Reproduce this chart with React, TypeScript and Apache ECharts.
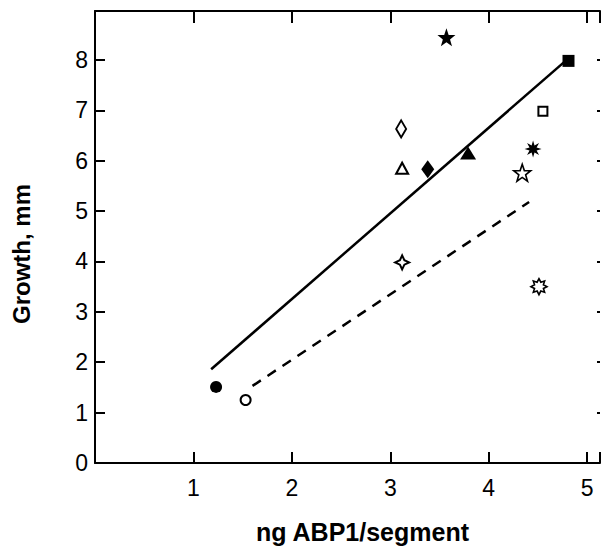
import React, { useEffect, useRef } from "react";
import * as echarts from "echarts";

// ---- data ----
const pointX = [1.23, 1.53, 3.11, 3.12, 3.38, 3.79, 3.57, 4.81, 4.55, 4.45, 4.34, 3.12, 4.51];
const pointY = [1.51, 1.25, 6.63, 5.85, 5.83, 6.15, 8.45, 7.98, 6.98, 6.23, 5.76, 3.98, 3.50];

const solidLineX = [1.18, 4.78];
const solidLineY = [1.86, 7.98];
const dashedLineX = [1.6, 4.41];
const dashedLineY = [1.53, 5.18];

const xTicks = [1, 2, 3, 4, 5];
const yTicks = [0, 1, 2, 3, 4, 5, 6, 7, 8];

const xTitle = "ng ABP1/segment";
const yTitle = "Growth, mm";

// ---- marker styles ----
const STAR5 = "path://M0,-10 L2.35,-3.24 L9.51,-3.09 L3.8,1.24 L5.88,8.09 L0,4 L-5.88,8.09 L-3.8,1.24 L-9.51,-3.09 L-2.35,-3.24 Z";
const STAR8 = "path://M0,-10 L1.72,-4.16 L7.07,-7.07 L4.16,-1.72 L10,0 L4.16,1.72 L7.07,7.07 L1.72,4.16 L0,10 L-1.72,4.16 L-7.07,7.07 L-4.16,1.72 L-10,0 L-4.16,-1.72 L-7.07,-7.07 L-1.72,-4.16 Z";
const STAR8O = "path://M0,-10 L2.3,-5.54 L7.07,-7.07 L5.54,-2.3 L10,0 L5.54,2.3 L7.07,7.07 L2.3,5.54 L0,10 L-2.3,5.54 L-7.07,7.07 L-5.54,2.3 L-10,0 L-5.54,-2.3 L-7.07,-7.07 L-2.3,-5.54 Z";
const STAR4 = "path://M0,-10 L3.2,-3.2 L10,0 L3.2,3.2 L0,10 L-3.2,3.2 L-10,0 L-3.2,-3.2 Z";

const INK = "#000000";
type Mk = { symbol: string; size: number | number[]; hollow: boolean; bw?: number };
const markerStyles: Mk[] = [
  { symbol: "circle", size: 12, hollow: false },
  { symbol: "circle", size: 10, hollow: true },
  { symbol: "diamond", size: [10, 17], hollow: true },
  { symbol: "triangle", size: [12, 11], hollow: true },
  { symbol: "diamond", size: [13, 18], hollow: false },
  { symbol: "triangle", size: [16, 13], hollow: false },
  { symbol: STAR5, size: 18, hollow: false },
  { symbol: "rect", size: 12, hollow: false },
  { symbol: "rect", size: 9, hollow: true },
  { symbol: STAR8, size: 17, hollow: false },
  { symbol: STAR5, size: 17, hollow: true, bw: 1.6 },
  { symbol: STAR4, size: 14, hollow: true },
  { symbol: STAR8O, size: 16, hollow: true, bw: 1.6 },
];

const X_MAX = 5.13;
const Y_MAX = 8.97;

function axisLine(show = true) {
  return { show, onZero: false, lineStyle: { color: INK, width: 2 } };
}
function ticks(length: number) {
  return { show: true, inside: true, length, lineStyle: { color: INK, width: 2 } };
}

export default function App() {
  const ref = useRef<HTMLDivElement>(null);
  useEffect(() => {
    if (!ref.current) return;
    const chart = echarts.init(ref.current, undefined, { renderer: "svg" });
    const font = "'Liberation Sans', Arial, Helvetica, sans-serif";

    const scatterData = pointX.map((x, i) => {
      const m = markerStyles[i];
      return {
        value: [x, pointY[i]],
        symbol: m.symbol,
        symbolSize: m.size,
        itemStyle: m.hollow
          ? { color: "#ffffff", borderColor: INK, borderWidth: m.bw ?? 2, opacity: 1 }
          : { color: INK, borderWidth: 0, opacity: 1 },
      };
    });

    chart.setOption({
      animation: false,
      backgroundColor: "#ffffff",
      grid: { left: 95, top: 11, width: 505, height: 452, outerBoundsMode: "none" },
      xAxis: [
        {
          type: "value",
          position: "bottom",
          min: 0,
          max: X_MAX,
          interval: 1,
          axisLine: axisLine(),
          axisTick: ticks(11),
          splitLine: { show: false },
          name: xTitle,
          nameLocation: "middle",
          nameGap: 56,
          nameTextStyle: {
            color: INK,
            fontSize: 25,
            fontWeight: "bold",
            fontFamily: font,
            padding: [0, 0, 0, 30],
          },
          axisLabel: {
            color: INK,
            fontSize: 23,
            fontFamily: font,
            margin: 13,
            formatter: (v: number) => (xTicks.includes(v) ? String(v) : ""),
          },
        },
        {
          type: "value",
          position: "top",
          min: 0,
          max: X_MAX,
          interval: 1,
          axisLine: axisLine(),
          axisTick: ticks(12),
          splitLine: { show: false },
          axisLabel: { show: false },
        },
      ],
      yAxis: [
        {
          type: "value",
          position: "left",
          min: 0,
          max: Y_MAX,
          interval: 1,
          axisLine: axisLine(),
          axisTick: ticks(10),
          splitLine: { show: false },
          name: yTitle,
          nameLocation: "middle",
          nameGap: 62,
          nameTextStyle: {
            color: INK,
            fontSize: 24,
            fontWeight: "bold",
            fontFamily: font,
            padding: [0, 34, 0, 0],
          },
          axisLabel: {
            color: INK,
            fontSize: 23,
            fontFamily: font,
            margin: 7,
            formatter: (v: number) => (yTicks.includes(v) ? String(v) : ""),
          },
        },
        {
          type: "value",
          position: "right",
          min: 0,
          max: Y_MAX,
          interval: 1,
          axisLine: axisLine(false),
          axisTick: ticks(3),
          splitLine: { show: false },
          axisLabel: { show: false },
        },
      ],
      series: [
        {
          type: "line",
          symbol: "none",
          lineStyle: { color: INK, width: 2.5, type: "solid" },
          data: solidLineX.map((x, i) => [x, solidLineY[i]]),
        },
        {
          type: "line",
          symbol: "none",
          lineStyle: { color: INK, width: 2.5, type: [10, 8] },
          data: dashedLineX.map((x, i) => [x, dashedLineY[i]]),
        },
        {
          type: "scatter",
          itemStyle: { opacity: 1 },
          data: scatterData,
        },
      ],
    });
    return () => chart.dispose();
  }, []);
  return (
    <div
      ref={ref}
      style={{ position: "absolute", left: 0, top: 0, width: 603, height: 546 }}
    />
  );
}
